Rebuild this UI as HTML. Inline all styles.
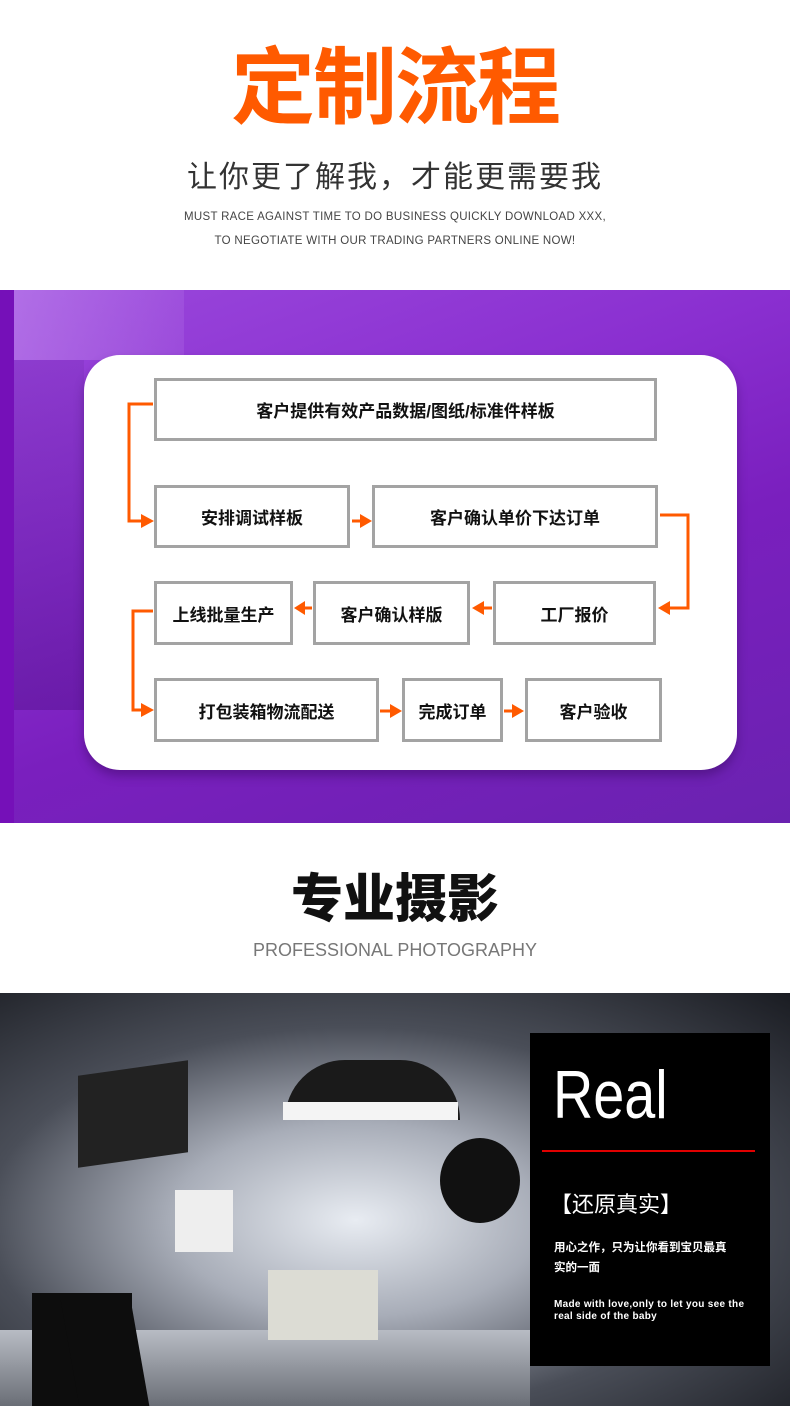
<!DOCTYPE html>
<html><head><meta charset="utf-8"><style>
*{margin:0;padding:0;box-sizing:border-box}
body{width:790px;height:1416px;position:relative;background:#fff;font-family:"Liberation Sans","Noto Sans CJK SC",sans-serif;overflow:hidden}
.a{position:absolute}
.c{text-align:center;white-space:nowrap}
.box{position:absolute;border:3px solid #a3a3a3;background:#fff;display:flex;align-items:center;justify-content:center;font-size:17px;font-weight:bold;color:#111;font-family:"Liberation Sans","Noto Sans CJK SC",sans-serif}
</style></head><body>
<div class="a c" style="left:0;width:790px;top:38px;font-size:84px;line-height:100px;font-weight:bold;color:#ff5a00;letter-spacing:-2px">定制流程</div>
<div class="a c" style="left:0;width:790px;top:158px;font-size:30px;line-height:40px;color:#333;letter-spacing:2px">让你更了解我，才能更需要我</div>
<div class="a c" style="left:0;width:790px;top:210px;font-size:11.5px;line-height:14px;color:#444;letter-spacing:.3px">MUST RACE AGAINST TIME TO DO BUSINESS QUICKLY DOWNLOAD XXX,</div>
<div class="a c" style="left:0;width:790px;top:234px;font-size:11.5px;line-height:14px;color:#444;letter-spacing:.3px">TO NEGOTIATE WITH OUR TRADING PARTNERS ONLINE NOW!</div>

<div class="a" style="left:0;top:290px;width:790px;height:533px;background:linear-gradient(160deg,#9a48dc 0%,#8a2fd0 35%,#7a1fbe 60%,#6a22b0 100%)"></div>
<div class="a" style="left:0;top:290px;width:14px;height:533px;background:#7510b8"></div>
<div class="a" style="left:14px;top:290px;width:170px;height:70px;background:linear-gradient(90deg,rgba(230,200,255,.3),rgba(230,200,255,.1))"></div>
<div class="a" style="left:14px;top:360px;width:70px;height:350px;background:linear-gradient(rgba(60,10,110,.1),rgba(60,10,110,.3))"></div>
<div class="a" style="left:84px;top:355px;width:653px;height:415px;background:#fff;border-radius:36px;box-shadow:0 6px 10px rgba(40,0,70,.35)"></div>

<div class="box" style="left:154px;top:378px;width:503px;height:63px">客户提供有效产品数据/图纸/标准件样板</div>
<div class="box" style="left:154px;top:485px;width:196px;height:63px">安排调试样板</div>
<div class="box" style="left:372px;top:485px;width:286px;height:63px">客户确认单价下达订单</div>
<div class="box" style="left:154px;top:581px;width:139px;height:64px">上线批量生产</div>
<div class="box" style="left:313px;top:581px;width:157px;height:64px">客户确认样版</div>
<div class="box" style="left:493px;top:581px;width:163px;height:64px">工厂报价</div>
<div class="box" style="left:154px;top:678px;width:225px;height:64px">打包装箱物流配送</div>
<div class="box" style="left:402px;top:678px;width:101px;height:64px">完成订单</div>
<div class="box" style="left:525px;top:678px;width:137px;height:64px">客户验收</div>

<svg class="a" style="left:0;top:0" width="790" height="800">
<g stroke="#ff5a00" stroke-width="3" fill="none">
<polyline points="153,404 129,404 129,521 143,521"/>
<line x1="352" y1="521" x2="362" y2="521"/>
<polyline points="660,515 688,515 688,608 670,608"/>
<line x1="492" y1="608" x2="484" y2="608"/>
<line x1="312" y1="608" x2="305" y2="608"/>
<polyline points="153,611 133,611 133,710 143,710"/>
<line x1="380" y1="711" x2="392" y2="711"/>
<line x1="504" y1="711" x2="514" y2="711"/>
</g>
<g fill="#ff5a00">
<polygon points="141,514 154,521 141,528"/>
<polygon points="360,514 372,521 360,528"/>
<polygon points="670,601 658,608 670,615"/>
<polygon points="484,601 472,608 484,615"/>
<polygon points="305,601 294,608 305,615"/>
<polygon points="141,703 154,710 141,717"/>
<polygon points="390,704 402,711 390,718"/>
<polygon points="512,704 524,711 512,718"/>
</g>
</svg>

<div class="a c" style="left:0;width:790px;top:868px;font-size:52px;line-height:64px;font-weight:900;color:#111">专业摄影</div>
<div class="a c" style="left:0;width:790px;top:939px;font-size:18px;line-height:22px;color:#777">PROFESSIONAL PHOTOGRAPHY</div>

<div class="a" style="left:0;top:993px;width:790px;height:413px;background:radial-gradient(ellipse at 45% 55%,#e8ecf2 0%,#a8adb8 30%,#4a4e58 60%,#1a1c22 100%)"></div>
<div class="a" style="left:0;top:1330px;width:530px;height:76px;background:linear-gradient(#b8bcc4,#6a6e76)"></div>
<div class="a" style="left:285px;top:1060px;width:175px;height:60px;background:#1a1a1a;border-radius:80px 80px 0 0"></div>
<div class="a" style="left:283px;top:1102px;width:175px;height:18px;background:#f4f4f4"></div>
<div class="a" style="left:78px;top:1068px;width:110px;height:92px;background:#222;transform:skewY(-8deg)"></div>
<div class="a" style="left:440px;top:1138px;width:80px;height:85px;background:#111;border-radius:50%"></div>
<div class="a" style="left:175px;top:1190px;width:58px;height:62px;background:#eee"></div>
<div class="a" style="left:32px;top:1293px;width:100px;height:113px;background:#0d0d0d"></div>
<div class="a" style="left:70px;top:1300px;width:70px;height:106px;background:#0d0d0d;transform:skewX(10deg)"></div>
<div class="a" style="left:268px;top:1270px;width:110px;height:70px;background:#dcdcd4"></div>
<div class="a" style="left:530px;top:1033px;width:240px;height:333px;background:#000"></div>
<div class="a" style="left:553px;top:1055px;font-size:68px;line-height:80px;color:#fff;transform:scaleX(.82);transform-origin:left top">Real</div>
<div class="a" style="left:542px;top:1150px;width:213px;height:2px;background:#e00000"></div>
<div class="a" style="left:550px;top:1190px;font-size:22px;line-height:30px;color:#fff">【还原真实】</div>
<div class="a" style="left:554px;top:1238px;font-size:11.5px;line-height:20px;color:#fff;font-weight:bold;width:176px">用心之作，只为让你看到宝贝最真实的一面</div>
<div class="a" style="left:554px;top:1299px;font-size:10px;line-height:12px;color:#fff;font-weight:bold;width:200px;letter-spacing:.3px">Made with love,only to let you see the real side of the baby</div>
</body></html>
